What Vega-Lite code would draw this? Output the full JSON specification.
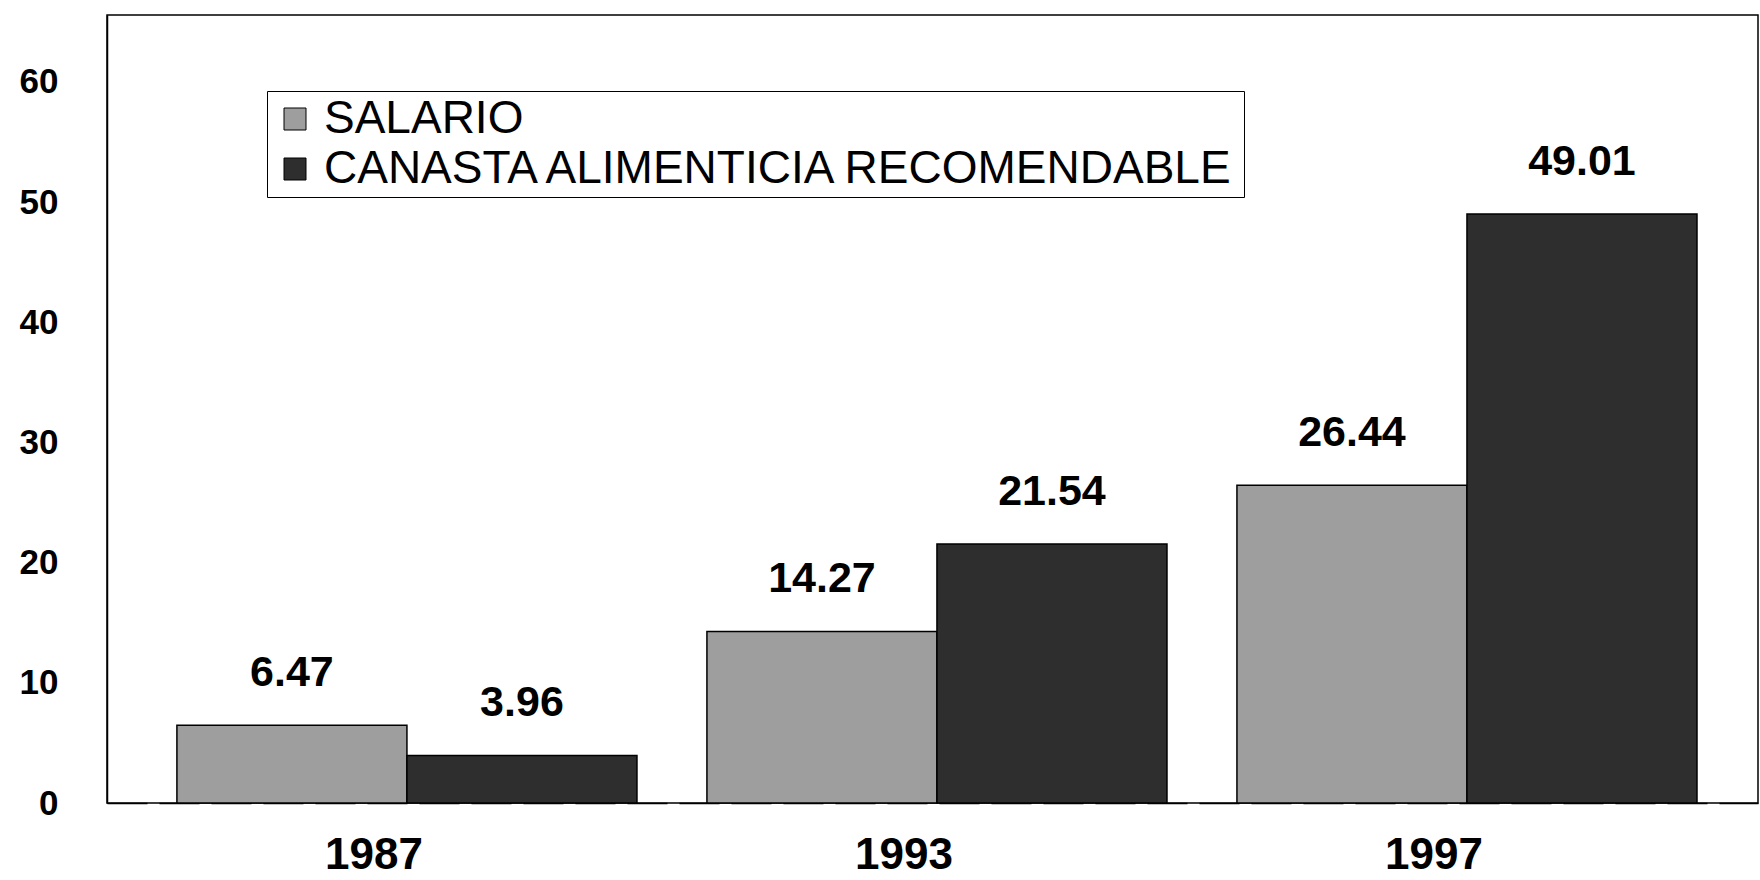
{
  "$schema": "https://vega.github.io/schema/vega-lite/v6.json",
  "width": 1651,
  "height": 788,
  "autosize": {"type": "none"},
  "padding": {"left": 107, "top": 15, "right": 2, "bottom": 77},
  "background": "white",
  "config": {
    "view": {"stroke": "black", "strokeWidth": 1.5},
    "font": "Liberation Sans"
  },
  "data": {
    "values": [
      {"year": "1987", "serie": "SALARIO", "valor": 6.47},
      {"year": "1987", "serie": "CANASTA ALIMENTICIA RECOMENDABLE", "valor": 3.96},
      {"year": "1993", "serie": "SALARIO", "valor": 14.27},
      {"year": "1993", "serie": "CANASTA ALIMENTICIA RECOMENDABLE", "valor": 21.54},
      {"year": "1997", "serie": "SALARIO", "valor": 26.44},
      {"year": "1997", "serie": "CANASTA ALIMENTICIA RECOMENDABLE", "valor": 49.01}
    ]
  },
  "encoding": {
    "x": {
      "field": "year",
      "type": "nominal",
      "scale": {"paddingInner": 0.132, "paddingOuter": 0.1235, "align": 0.534},
      "axis": {
        "title": null,
        "labelAngle": 0,
        "ticks": false,
        "labelFontSize": 44,
        "labelFontWeight": "bold",
        "labelColor": "black",
        "labelPadding": 30,
        "labelOffset": -33,
        "domainColor": "black",
        "domainWidth": 1.5,
        "domainDash": [40, 12]
      }
    },
    "xOffset": {
      "field": "serie",
      "type": "nominal",
      "sort": ["SALARIO", "CANASTA ALIMENTICIA RECOMENDABLE"],
      "scale": {"paddingInner": 0, "paddingOuter": 0}
    },
    "y": {
      "field": "valor",
      "type": "quantitative",
      "scale": {"domain": [0, 65.56], "nice": false},
      "axis": {
        "title": null,
        "values": [0, 10, 20, 30, 40, 50, 60],
        "ticks": false,
        "grid": false,
        "labelFontSize": 35,
        "labelFontWeight": "bold",
        "labelColor": "black",
        "labelPadding": 49,
        "domainColor": "black",
        "domainWidth": 1.5
      }
    }
  },
  "layer": [
    {
      "mark": {"type": "bar", "stroke": "black", "strokeWidth": 1.5},
      "encoding": {
        "color": {
          "field": "serie",
          "type": "nominal",
          "sort": ["SALARIO", "CANASTA ALIMENTICIA RECOMENDABLE"],
          "scale": {"range": ["#9e9e9e", "#2e2e2e"]},
          "legend": {
            "orient": "none",
            "legendX": 160,
            "legendY": 76,
            "title": null,
            "strokeColor": "black",
            "fillColor": "white",
            "padding": 5,
            "labelFontSize": 46,
            "labelColor": "black",
            "labelLimit": 0,
            "labelOffset": 6,
            "rowPadding": 4,
            "symbolType": "square",
            "symbolSize": 484,
            "symbolStrokeColor": "black",
            "symbolStrokeWidth": 1,
            "symbolOpacity": 1
          }
        }
      }
    },
    {
      "mark": {
        "type": "text",
        "baseline": "bottom",
        "dy": -30,
        "fontSize": 43,
        "fontWeight": "bold",
        "font": "Liberation Sans",
        "color": "black"
      },
      "encoding": {
        "text": {"field": "valor", "type": "quantitative", "format": ".2f"}
      }
    }
  ]
}
